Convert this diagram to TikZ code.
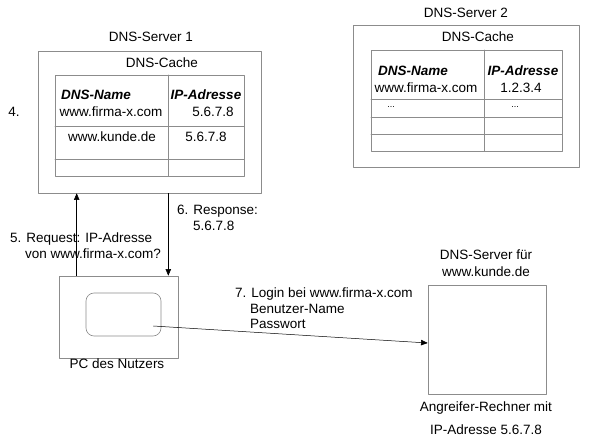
\documentclass[tikz,border=0pt]{standalone}
\usepackage{fontspec}
\setmainfont{Liberation Sans}
\usetikzlibrary{arrows,calc}

\begin{document}
\begin{tikzpicture}[line cap=round,line join=round,>=triangle 45,x=1pt,y=-1pt,
		font=\fontsize{13.5}{15}\selectfont,
		box/.style={draw=black!45,line width=0.6pt,inner sep=0pt},
		grid/.style={draw=black!45,line width=0.6pt},
		head/.style={font=\fontsize{13.5}{15}\selectfont\bfseries\itshape},
		msg/.style={anchor=west,inner sep=0pt},
		conn/.style={line width=0.5pt,->}]
				\useasboundingbox (0,0) rectangle (590,444);
				% DNS-Server 1
				\node (srv1lbl) at (151,37) {DNS-Server 1};
				\node[box,minimum width=223pt,minimum height=142pt] (srv1) at (149.5,122) {};
				\node (cache1) at (162,63) {DNS-Cache};
				\draw [grid] (55,75) rectangle (244,176);
				\draw [grid] (168,75) -- (168,176);
				\draw [grid] (55,126) -- (244,126);
				\draw [grid] (55,159) -- (244,159);
				\node[head] (name1) at (96,95) {DNS-Name};
				\node[head] (ip1) at (206,95) {IP-Adresse};
				\node (firma1) at (111,112) {www.firma-x.com};
				\node (ipfirma1) at (213,112) {5.6.7.8};
				\node (kunde1) at (112,137) {www.kunde.de};
				\node (ipkunde1) at (206,137) {5.6.7.8};
				\node (step4) at (14,112) {4.};
				% DNS-Server 2
				\node (srv2lbl) at (466,13) {DNS-Server 2};
				\node[box,minimum width=226pt,minimum height=142pt] (srv2) at (466,96) {};
				\node (cache2) at (478,37) {DNS-Cache};
				\draw [grid] (371,50) rectangle (562,151);
				\draw [grid] (484,50) -- (484,151);
				\draw [grid] (371,99) -- (562,99);
				\draw [grid] (371,117) -- (562,117);
				\draw [grid] (371,134) -- (562,134);
				\node[head] (name2) at (413,71) {DNS-Name};
				\node[head] (ip2) at (523,71) {IP-Adresse};
				\node (firma2) at (426,88) {www.firma-x.com};
				\node (ipfirma2) at (521,88) {1.2.3.4};
				\node[font=\fontsize{9}{10}\selectfont] (dots2a) at (391,107) {...};
				\node[font=\fontsize{9}{10}\selectfont] (dots2b) at (515,107) {...};
				% PC des Nutzers
				\node[box,minimum width=119pt,minimum height=82pt] (pc) at (118.5,317) {};
				\node[box,rounded corners=8pt,minimum width=75pt,minimum height=43pt] (screen) at (123.5,314.5) {};
				\node (pclbl) at (117,364) {PC des Nutzers};
				% Angreifer-Rechner
				\node[box,minimum width=118pt,minimum height=109pt] (att) at (487,339.5) {};
				\node (attlbl1) at (486,255) {DNS-Server f\"ur};
				\node (attlbl2) at (486,272) {www.kunde.de};
				\node (attlbl3) at (486,408) {Angreifer-Rechner mit};
				\node (attlbl4) at (486,430) {IP-Adresse 5.6.7.8};
				% Nachrichten
				\draw [conn] ([xshift=18pt]pc.north west) -- ([xshift=18pt]pc.north west |- srv1.south);
				\draw [conn] ([xshift=-10pt]pc.north east |- srv1.south) -- ([xshift=-10pt]pc.north east);
				\draw [conn] ($(screen.east)+(-8,11.5)$) -- ($(att.west)+(0,3.5)$);
				\node[msg] (req1) at (10,239) {5. Request: IP-Adresse};
				\node[msg] (req2) at (25,254) {von www.firma-x.com?};
				\node[msg] (resp1) at (177,211) {6. Response:};
				\node[msg] (resp2) at (193,226) {5.6.7.8};
				\node[msg] (login1) at (235,294) {7. Login bei www.firma-x.com};
				\node[msg] (login2) at (250,309) {Benutzer-Name};
				\node[msg] (login3) at (250,324) {Passwort};
			\end{tikzpicture}
\end{document}
